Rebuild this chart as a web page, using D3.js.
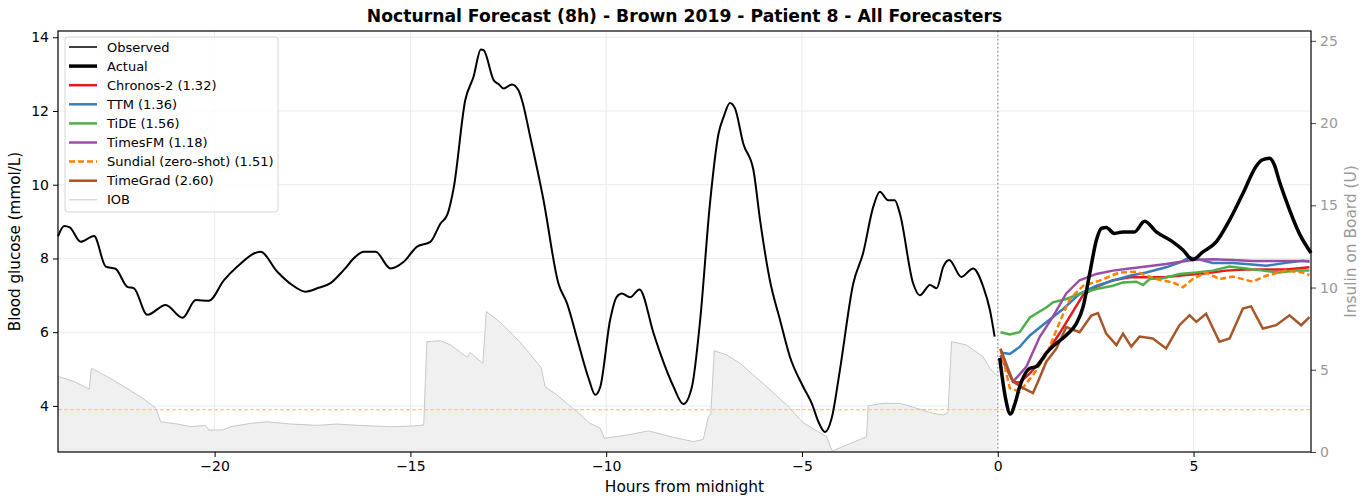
<!DOCTYPE html>
<html>
<head>
<meta charset="utf-8">
<script src="https://cdn.jsdelivr.net/npm/d3@7"></script>
<style>
  body { margin: 0; background: #fff; }
  svg { font-family: "DejaVu Sans", sans-serif; }
</style>
</head>
<body>
<div id="chart"></div>
<script>
// observed glucose before midnight: [hour, mmol/L]
const observed = [
  [-24, 8.6], [-23.84, 8.88], [-23.7, 8.84], [-23.42, 8.45], [-23.08, 8.61], [-22.78, 7.78],
  [-22.53, 7.72], [-22.23, 7.23], [-22.06, 7.19], [-21.72, 6.47], [-21.25, 6.74], [-20.82, 6.39],
  [-20.48, 6.87], [-20.15, 6.85], [-19.76, 7.41], [-19.42, 7.78], [-18.83, 8.18], [-18.4, 7.64],
  [-18.02, 7.28], [-17.68, 7.1], [-17.38, 7.19], [-17.04, 7.33], [-16.7, 7.69], [-16.4, 8.05],
  [-16.19, 8.18], [-15.89, 8.18], [-15.51, 7.73], [-15.17, 7.91], [-14.83, 8.32], [-14.49, 8.45],
  [-14.23, 8.95], [-14.06, 9.18], [-13.89, 9.94], [-13.6, 12.29], [-13.39, 12.92], [-13.2, 13.67],
  [-13.13, 13.65], [-12.87, 12.83], [-12.75, 12.73], [-12.62, 12.61], [-12.41, 12.72], [-12.24, 12.56],
  [-12.15, 12.29], [-11.94, 11.3], [-11.6, 9.58], [-11.22, 7.32], [-11.0, 6.78], [-10.71, 5.7],
  [-10.45, 4.75], [-10.28, 4.3], [-10.15, 4.52], [-9.9, 6.33], [-9.73, 6.96], [-9.6, 7.05],
  [-9.39, 6.95], [-9.15, 7.16], [-8.79, 5.97], [-8.62, 5.43], [-8.28, 4.52], [-8.03, 4.05],
  [-7.81, 4.52], [-7.6, 6.33], [-7.35, 9.49], [-7.13, 11.39], [-7.0, 11.84], [-6.84, 12.22],
  [-6.71, 12.07], [-6.5, 11.12], [-6.24, 10.4], [-6.07, 9.04], [-5.82, 7.41], [-5.56, 6.33],
  [-5.31, 5.34], [-4.97, 4.52], [-4.75, 4.07], [-4.58, 3.57], [-4.41, 3.29], [-4.24, 3.67],
  [-4.03, 4.98], [-3.69, 7.32], [-3.44, 8.14], [-3.18, 9.4], [-3.01, 9.81], [-2.8, 9.58],
  [-2.63, 9.58], [-2.5, 9.22], [-2.16, 7.32], [-1.99, 7.0], [-1.73, 7.28], [-1.56, 7.19],
  [-1.39, 7.78], [-1.24, 7.96], [-0.93, 7.5], [-0.63, 7.73], [-0.37, 7.23], [-0.2, 6.6], [-0.08, 5.88]
];

// actual glucose after midnight
const actual = [
  [0.05, 5.3], [0.2, 4.2], [0.32, 3.78], [0.45, 4.1], [0.56, 4.52], [0.82, 5.02], [0.99, 5.07],
  [1.24, 5.43], [1.5, 5.7], [1.75, 5.92], [2.01, 6.24], [2.18, 6.69], [2.35, 7.6], [2.52, 8.5],
  [2.65, 8.82], [2.77, 8.84], [2.98, 8.68], [3.2, 8.72], [3.49, 8.72], [3.75, 9.01], [4.05, 8.72],
  [4.47, 8.45], [4.73, 8.23], [4.98, 7.97], [5.24, 8.18], [5.58, 8.45], [5.92, 9.04], [6.26, 9.76],
  [6.6, 10.5], [6.75, 10.67], [6.94, 10.72], [7.06, 10.55], [7.19, 10.1], [7.36, 9.58],
  [7.7, 8.68], [8.0, 8.15]
];

const chronos = [
  [0.07, 5.37], [0.39, 4.66], [0.56, 4.63], [0.82, 4.88], [1.24, 5.42], [1.58, 5.97], [1.84, 6.42],
  [2.18, 7.01], [2.52, 7.23], [2.94, 7.41], [3.37, 7.49], [3.79, 7.49], [4.3, 7.5], [4.81, 7.55],
  [5.32, 7.6], [5.83, 7.67], [6.34, 7.7], [6.85, 7.7], [7.36, 7.7], [7.96, 7.76]
];
const ttm = [
  [0.07, 5.45], [0.31, 5.41], [0.56, 5.6], [0.82, 5.91], [1.24, 6.27], [1.67, 6.63], [2.09, 7.04],
  [2.52, 7.26], [2.94, 7.4], [3.37, 7.53], [3.79, 7.62], [4.3, 7.76], [4.64, 7.89], [4.9, 8.03],
  [5.15, 7.97], [5.49, 7.88], [6.0, 7.88], [6.34, 7.85], [6.85, 7.8], [7.36, 7.88], [7.79, 7.94], [7.96, 7.91]
];
const tide = [
  [0.07, 6.0], [0.31, 5.94], [0.56, 6.0], [0.82, 6.4], [1.24, 6.67], [1.41, 6.81], [1.75, 6.9],
  [2.09, 7.04], [2.52, 7.17], [2.94, 7.26], [3.2, 7.35], [3.54, 7.37], [3.71, 7.28], [3.88, 7.44],
  [4.22, 7.46], [4.64, 7.58], [5.07, 7.62], [5.49, 7.67], [5.92, 7.78], [6.34, 7.73], [6.77, 7.67],
  [7.19, 7.62], [7.62, 7.67], [7.96, 7.67]
];
const timesfm = [
  [0.07, 5.37], [0.39, 4.66], [0.73, 5.06], [1.07, 5.87], [1.41, 6.42], [1.75, 7.05], [2.09, 7.41],
  [2.52, 7.58], [2.94, 7.67], [3.37, 7.73], [3.79, 7.78], [4.3, 7.85], [4.98, 7.96], [5.49, 7.98],
  [6.0, 7.96], [6.51, 7.93], [7.02, 7.93], [7.53, 7.93], [7.96, 7.93]
];
const sundial = [
  [0.07, 5.55], [0.31, 4.48], [0.56, 4.39], [0.9, 4.84], [1.24, 5.38], [1.58, 6.27], [1.84, 6.9],
  [2.18, 7.26], [2.6, 7.4], [3.11, 7.62], [3.54, 7.64], [4.05, 7.44], [4.47, 7.35], [4.73, 7.22],
  [4.98, 7.44], [5.32, 7.62], [5.66, 7.44], [6.0, 7.51], [6.51, 7.37], [6.85, 7.53], [7.36, 7.67],
  [7.79, 7.62], [7.96, 7.55]
];
const timegrad = [
  [0.07, 5.55], [0.39, 4.66], [0.65, 4.48], [0.9, 4.35], [1.03, 4.66], [1.24, 5.2], [1.5, 5.56],
  [1.75, 6.14], [2.09, 6.0], [2.39, 6.45], [2.56, 6.52], [2.77, 5.96], [3.03, 5.65], [3.2, 5.96],
  [3.41, 5.61], [3.62, 5.88], [3.96, 5.83], [4.3, 5.56], [4.64, 6.19], [4.9, 6.46], [5.07, 6.28],
  [5.32, 6.5], [5.66, 5.74], [5.92, 5.83], [6.26, 6.64], [6.47, 6.7], [6.77, 6.1], [7.11, 6.19],
  [7.45, 6.46], [7.75, 6.19], [7.96, 6.41]
];

// insulin on board (U), right axis
const iob = [
  [-24, 4.6], [-23.59, 4.28], [-23.2, 3.83], [-23.15, 5.09], [-22.74, 4.58], [-22.31, 3.97],
  [-21.89, 3.36], [-21.5, 2.66], [-21.38, 1.84], [-20.95, 1.7], [-20.61, 1.54], [-20.23, 1.62],
  [-20.15, 1.34], [-19.8, 1.34], [-19.59, 1.54], [-19.08, 1.74], [-18.66, 1.84], [-18.06, 1.7],
  [-17.38, 1.62], [-16.87, 1.7], [-16.36, 1.62], [-15.51, 1.54], [-14.92, 1.58], [-14.66, 1.64],
  [-14.58, 6.71], [-14.23, 6.77], [-13.98, 6.51], [-13.55, 5.76], [-13.47, 6.04], [-13.15, 5.39],
  [-13.06, 8.54], [-12.7, 7.88], [-12.19, 6.66], [-11.66, 5.14], [-11.56, 3.97], [-11.26, 3.47],
  [-10.75, 2.45], [-10.41, 1.74], [-10.15, 1.44], [-10.05, 0.83], [-9.47, 1.03], [-8.92, 1.28],
  [-8.28, 0.89], [-7.77, 0.63], [-7.52, 0.77], [-7.39, 2.15], [-7.33, 2.25], [-7.24, 6.16],
  [-6.92, 5.9], [-6.58, 5.39], [-5.9, 3.97], [-5.39, 2.86], [-4.97, 1.78], [-4.37, 0.93],
  [-4.24, 0.12], [-4.2, 0.08], [-3.35, 0.93], [-3.31, 2.8], [-2.93, 2.96], [-2.5, 2.96],
  [-2.07, 2.66], [-1.65, 2.35], [-1.39, 2.25], [-1.27, 2.39], [-1.18, 6.71], [-0.8, 6.51],
  [-0.38, 5.8], [-0.2, 5.09], [-0.03, 4.68]
];

const forecasters = [
  { name: "Chronos-2 (1.32)", data: chronos, color: "#e41a1c", dash: null },
  { name: "TTM (1.36)", data: ttm, color: "#377eb8", dash: null },
  { name: "TiDE (1.56)", data: tide, color: "#4daf4a", dash: null },
  { name: "TimesFM (1.18)", data: timesfm, color: "#984ea3", dash: null },
  { name: "Sundial (zero-shot) (1.51)", data: sundial, color: "#ff7f00", dash: "6,3" },
  { name: "TimeGrad (2.60)", data: timegrad, color: "#a65628", dash: null }
];

const xTicks = [-20, -15, -10, -5, 0, 5];
const yTicks = [4, 6, 8, 10, 12, 14];
const iobTicks = [0, 5, 10, 15, 20, 25];
const hypoLevel = 3.9;

const W = 1371, H = 500;
const margin = { top: 31, right: 60, bottom: 48, left: 58 };
const width = W - margin.left - margin.right;
const height = H - margin.top - margin.bottom;

const svg = d3.select("#chart").append("svg")
  .attr("width", W).attr("height", H);
const g = svg.append("g")
  .attr("transform", "translate(" + margin.left + "," + margin.top + ")");

const x = d3.scaleLinear().domain([-24, 8]).range([0, width]);
const y = d3.scaleLinear().domain([2.75, 14.17]).range([height, 0]);
const y2 = d3.scaleLinear().domain([0, 25.6]).range([height, 0]);

const fmt = d => d < 0 ? "\u2212" + Math.abs(d) : "" + d;

// grid
g.append("g").selectAll("line").data(xTicks).enter().append("line")
  .attr("x1", d => x(d)).attr("x2", d => x(d)).attr("y1", 0).attr("y2", height)
  .attr("stroke", "#ebebeb").attr("stroke-width", 1);
g.append("g").selectAll("line").data(yTicks).enter().append("line")
  .attr("y1", d => y(d)).attr("y2", d => y(d)).attr("x1", 0).attr("x2", width)
  .attr("stroke", "#ebebeb").attr("stroke-width", 1);

// IOB area
g.append("path").datum(iob)
  .attr("d", d3.area().x(d => x(d[0])).y0(height).y1(d => y2(d[1])))
  .attr("fill", "#f0f0f0");
g.append("path").datum(iob)
  .attr("d", d3.line().x(d => x(d[0])).y(d => y2(d[1])))
  .attr("fill", "none").attr("stroke", "#c8c8c8").attr("stroke-width", 1);

// hypo threshold and midnight marker
g.append("line")
  .attr("x1", 0).attr("x2", width).attr("y1", y(hypoLevel)).attr("y2", y(hypoLevel))
  .attr("stroke", "#fbc25e").attr("stroke-opacity", 0.8).attr("stroke-width", 1.2)
  .attr("stroke-dasharray", "4,2");
g.append("line")
  .attr("x1", x(0)).attr("x2", x(0)).attr("y1", 0).attr("y2", height)
  .attr("stroke", "#a0a0a0").attr("stroke-width", 1.5).attr("stroke-dasharray", "1.5,2.5");

const smooth = d3.line().x(d => x(d[0])).y(d => y(d[1])).curve(d3.curveMonotoneX);
const jag = d3.line().x(d => x(d[0])).y(d => y(d[1]));

g.append("path").datum(observed).attr("d", smooth)
  .attr("fill", "none").attr("stroke", "#000").attr("stroke-width", 2);

forecasters.forEach(f => {
  g.append("path").datum(f.data).attr("d", jag)
    .attr("fill", "none").attr("stroke", f.color).attr("stroke-width", 2.5)
    .attr("stroke-dasharray", f.dash);
});

g.append("path").datum(actual).attr("d", smooth)
  .attr("fill", "none").attr("stroke", "#000").attr("stroke-width", 3.5);

// axes
const xAxis = g.append("g").attr("transform", "translate(0," + height + ")")
  .call(d3.axisBottom(x).tickValues(xTicks).tickFormat(fmt).tickSize(5).tickPadding(4));
const yAxis = g.append("g")
  .call(d3.axisLeft(y).tickValues(yTicks).tickSize(5).tickPadding(4));
const y2Axis = g.append("g").attr("transform", "translate(" + width + ",0)")
  .call(d3.axisRight(y2).tickValues(iobTicks).tickSize(5).tickPadding(4));
[xAxis, yAxis, y2Axis].forEach(a => {
  a.select(".domain").remove();
  a.selectAll("text").attr("font-size", 14).attr("font-family", "DejaVu Sans");
});
xAxis.selectAll("line").attr("stroke", "#000");
yAxis.selectAll("text").attr("fill", "#000");
xAxis.selectAll("text").attr("fill", "#000");
y2Axis.selectAll("text").attr("fill", "#999");
y2Axis.selectAll("line").attr("stroke", "#444");

g.append("rect").attr("width", width).attr("height", height)
  .attr("fill", "none").attr("stroke", "#000").attr("stroke-width", 1.2);

// labels
svg.append("text").attr("x", margin.left + width / 2).attr("y", 22)
  .attr("text-anchor", "middle").attr("font-size", 17.2).attr("font-weight", "bold")
  .text("Nocturnal Forecast (8h) - Brown 2019 - Patient 8 - All Forecasters");
svg.append("text").attr("x", margin.left + width / 2).attr("y", 492)
  .attr("text-anchor", "middle").attr("font-size", 15.4).text("Hours from midnight");
svg.append("text").attr("transform", "translate(20," + (margin.top + height / 2) + ") rotate(-90)")
  .attr("text-anchor", "middle").attr("font-size", 15.2).text("Blood glucose (mmol/L)");
svg.append("text").attr("transform", "translate(1356," + (margin.top + height / 2) + ") rotate(-90)")
  .attr("text-anchor", "middle").attr("font-size", 15.4).attr("fill", "#999").text("Insulin on Board (U)");

// legend
const legendItems = [
  { name: "Observed", color: "#000", w: 1.5, dash: null },
  { name: "Actual", color: "#000", w: 3.5, dash: null }
].concat(forecasters.map(f => ({ name: f.name, color: f.color, w: 2.5, dash: f.dash })))
 .concat([{ name: "IOB", color: "#c8c8c8", w: 1, dash: null }]);

const lg = svg.append("g").attr("transform", "translate(65,37)");
lg.append("rect").attr("width", 213).attr("height", 175).attr("rx", 3)
  .attr("fill", "#fff").attr("fill-opacity", 0.8).attr("stroke", "#d6d6d6");
legendItems.forEach((it, i) => {
  const yy = 10 + i * 19.1;
  lg.append("line").attr("x1", 4).attr("x2", 32).attr("y1", yy).attr("y2", yy)
    .attr("stroke", it.color).attr("stroke-width", it.w).attr("stroke-dasharray", it.dash);
  lg.append("text").attr("x", 42).attr("y", yy).attr("dy", "0.35em")
    .attr("font-size", 13).text(it.name);
});
</script>
</body>
</html>
